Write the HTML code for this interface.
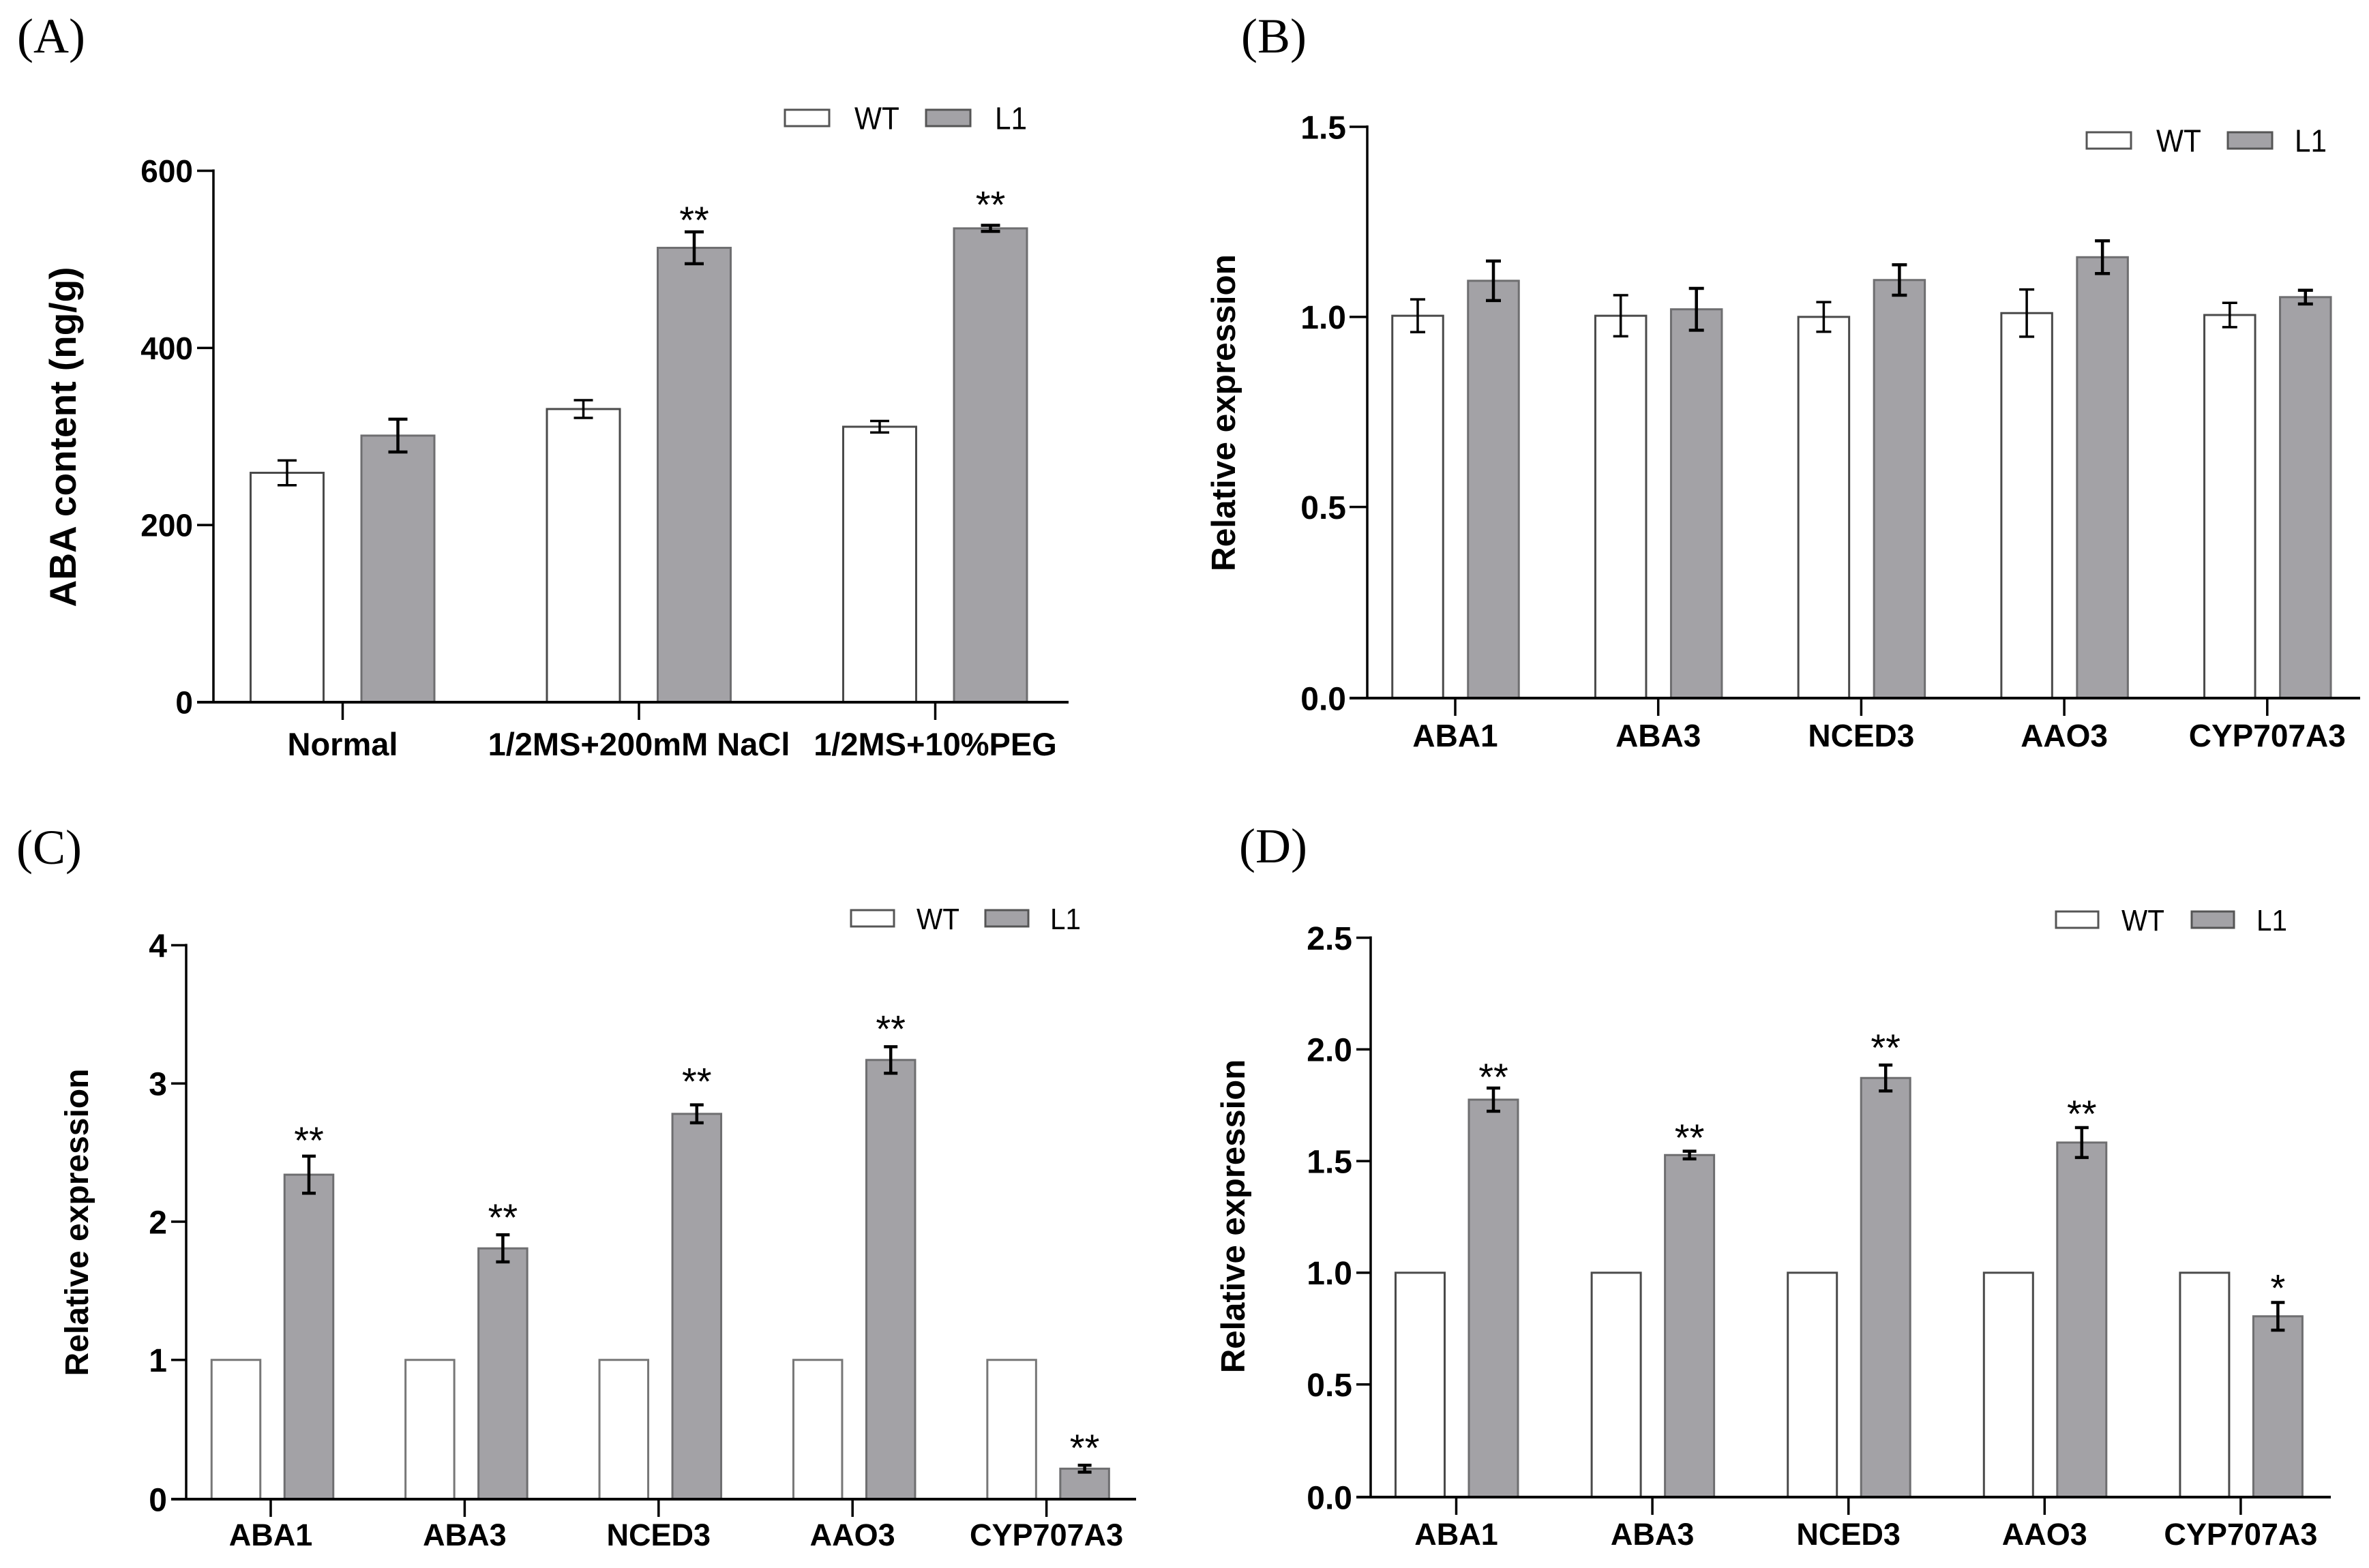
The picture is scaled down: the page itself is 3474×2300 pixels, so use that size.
<!DOCTYPE html>
<html lang="en">
<head>
<meta charset="utf-8">
<title>ABA content and relative expression</title>
<style>
html,body{margin:0;padding:0;background:#fff;}
svg{display:block;}
text{font-family:"Liberation Sans",Arial,sans-serif;fill:#000;}
.bold{font-weight:700;}
.letter{font-family:"Liberation Serif","Times New Roman",serif;font-size:72px;}
</style>
</head>
<body>
<svg id="figure" xmlns="http://www.w3.org/2000/svg" width="3474" height="2300" viewBox="0 0 3474 2300">
<rect width="3474" height="2300" fill="#fff"/>
<text class="letter" x="25" y="77">(A)</text>
<text class="letter" x="1820" y="77">(B)</text>
<text class="letter" x="24" y="1267">(C)</text>
<text class="letter" x="1817" y="1265">(D)</text>
</svg>
<script>
// ---- Panel A data ----
const categoriesA = ['Normal', '1/2MS+200mM NaCl', '1/2MS+10%PEG'];
const wtA = [259, 331, 311];
const l1A = [301, 513, 535];
const wtErrA = [14, 10, 6.5];
const l1ErrA = [18.5, 18, 3.4];
const sigA = ['', '**', '**'];
const sigGapA = [0, 17.7, 27.7];
const ticksA = [0, 200, 400, 600];

// ---- Panel B data ----
const categoriesB = ['ABA1', 'ABA3', 'NCED3', 'AAO3', 'CYP707A3'];
const wtB = [1.003, 1.003, 1.0, 1.01, 1.005];
const l1B = [1.095, 1.02, 1.097, 1.157, 1.052];
const wtErrB = [0.043, 0.054, 0.039, 0.062, 0.032];
const l1ErrB = [0.052, 0.055, 0.04, 0.043, 0.018];
const sigB = ['', '', '', '', ''];
const sigGapB = [0, 0, 0, 0, 0];
const ticksB = [0, 0.5, 1.0, 1.5];

// ---- Panel C data ----
const categoriesC = ['ABA1', 'ABA3', 'NCED3', 'AAO3', 'CYP707A3'];
const wtC = [1, 1, 1, 1, 1];
const l1C = [2.34, 1.807, 2.78, 3.17, 0.213];
const wtErrC = [0, 0, 0, 0, 0];
const l1ErrC = [0.134, 0.098, 0.065, 0.096, 0.025];
const sigC = ['**', '**', '**', '**', '**'];
const sigGapC = [0.143, 0.153, 0.197, 0.158, 0.153];
const ticksC = [0, 1, 2, 3, 4];

// ---- Panel D data ----
const categoriesD = ['ABA1', 'ABA3', 'NCED3', 'AAO3', 'CYP707A3'];
const wtD = [1, 1, 1, 1, 1];
const l1D = [1.775, 1.527, 1.872, 1.583, 0.805];
const wtErrD = [0, 0, 0, 0, 0];
const l1ErrD = [0.052, 0.017, 0.058, 0.067, 0.062];
const sigD = ['**', '**', '**', '**', '*'];
const sigGapD = [0.067, 0.079, 0.095, 0.079, 0.082];
const ticksD = [0, 0.5, 1.0, 1.5, 2.0, 2.5];

const yTitleA = 'ABA content (ng/g)';
const yTitleExpr = 'Relative expression';
const legendLabels = ['WT', 'L1'];

const NS = 'http://www.w3.org/2000/svg';
const figure = document.getElementById('figure');

function make(tag, attrs, parent, content) {
  const el = document.createElementNS(NS, tag);
  for (const key in attrs) el.setAttribute(key, attrs[key]);
  if (content !== undefined) el.textContent = content;
  parent.appendChild(el);
  return el;
}

function drawPanel(p) {
  const group = make('g', {}, figure);
  
  

  const domainMax = p.ticks[p.ticks.length - 1];
  const yScale = function (v) { return p.yZero - (v / domainMax) * (p.yZero - p.yTop); };
  const xBand = function (i) { return p.firstCat + p.catStep * i; };

  // bars
  p.categories.forEach(function (cat, i) {
    const slug = cat.toLowerCase().replace(/[^a-z0-9]+/g, '-');
    const seriesList = [
      { key: 'wt', vals: p.wt, errs: p.wtErr, off: p.wtOffset, fill: '#ffffff', stroke: p.wtStroke, sw: 3 },
      { key: 'l1', vals: p.l1, errs: p.l1Err, off: p.l1Offset, fill: '#a3a2a6', stroke: '#6e6e70', sw: 3 }
    ];
    seriesList.forEach(function (s) {
      const cx = xBand(i) + s.off;
      const top = yScale(s.vals[i]);
      const bar = make('rect', {
        x: cx - p.barW / 2, y: top, width: p.barW, height: p.y0 - top,
        fill: s.fill, stroke: s.stroke, 'stroke-width': s.sw
      }, group);
      
      

      if (s.errs[i] > 0) {
        const errTop = yScale(s.vals[i] + s.errs[i]);
        const errBot = yScale(s.vals[i] - s.errs[i]);
        const sw = s.key === 'wt' ? 3.5 : 4.5;
        const err = make('path', {
          d: 'M' + (cx - p.cap) + ' ' + errTop + 'H' + (cx + p.cap) +
             'M' + cx + ' ' + errTop + 'V' + errBot +
             'M' + (cx - p.cap) + ' ' + errBot + 'H' + (cx + p.cap),
          fill: 'none', stroke: '#000', 'stroke-width': sw
        }, group);
        
        
      }
    });

    if (p.sig[i]) {
      const starX = xBand(i) + p.l1Offset;
      const starCenter = yScale(p.l1[i] + p.l1Err[i] + p.sigGap[i]);
      const star = make('text', {
        x: starX, y: starCenter + 25, 'text-anchor': 'middle', 'font-size': 56
      }, group, p.sig[i]);
      
      
    }

    const tick = make('line', {
      x1: xBand(i), x2: xBand(i), y1: p.y0, y2: p.y0 + 26,
      stroke: '#000', 'stroke-width': 3.5
    }, group);
    
    

    const label = make('text', {
      class: 'bold', x: xBand(i), y: p.catBase, 'text-anchor': 'middle', 'font-size': p.catFont
    }, group, cat);
    
    
  });

  // axes
  const yAxis = make('line', {
    x1: p.axisX, x2: p.axisX, y1: p.yTop - 2, y2: p.y0,
    stroke: '#000', 'stroke-width': 3.5
  }, group);
  
  

  const xAxis = make('line', {
    x1: p.tickLeft, x2: p.axisRight, y1: p.y0, y2: p.y0,
    stroke: '#000', 'stroke-width': 4
  }, group);
  
  

  p.ticks.forEach(function (t) {
    const y = t === 0 ? p.y0 : yScale(t);
    const tick = make('line', {
      x1: p.tickLeft, x2: p.axisX, y1: y, y2: y, stroke: '#000', 'stroke-width': 3.5
    }, group);
    
    

    const label = make('text', {
      class: 'bold', x: p.tickLeft - p.tickGap, y: y + p.tickFont * 0.36,
      'text-anchor': 'end', 'font-size': p.tickFont
    }, group, t.toFixed(p.decimals));
    
    
  });

  const title = make('text', {
    class: 'bold', x: 0, y: 0, 'text-anchor': 'middle', 'font-size': p.titleFont,
    transform: 'translate(' + p.titleX + ' ' + p.titleY + ') rotate(-90)'
  }, group, p.title);
  
  

  // legend
  const legend = make('g', {}, group);
  
  
  legendLabels.forEach(function (name, i) {
    const entry = make('g', {}, legend);
    
    
    const swatch = make('rect', {
      x: p.legendSwatch[i], y: p.legendY - 12, width: p.legendW, height: 24,
      fill: i === 0 ? '#ffffff' : '#a3a2a6', stroke: '#555', 'stroke-width': 3
    }, entry);
    
    
    const text = make('text', {
      x: p.legendText[i], y: p.legendY + p.legendFont * 0.36, 'font-size': p.legendFont,
      textLength: (i === 0 ? 1.555 : 1.112) * p.legendFont * 0.92, lengthAdjust: 'spacingAndGlyphs'
    }, entry, name);
    
    
  });
}

drawPanel({
  id: 'a', categories: categoriesA, wt: wtA, l1: l1A, wtErr: wtErrA, l1Err: l1ErrA, sig: sigA, sigGap: sigGapA, ticks: ticksA,
  decimals: 0, title: yTitleA, wtStroke: '#4a4a4a',
  axisX: 313, tickLeft: 289, axisRight: 1567, y0: 1030, yZero: 1030, yTop: 250.5,
  firstCat: 502.5, catStep: 434.5, wtOffset: -81.5, l1Offset: 81, barW: 107, cap: 14,
  catBase: 1108, catFont: 47, tickFont: 46, tickGap: 6, titleX: 111, titleY: 641, titleFont: 55,
  legendSwatch: [1151, 1358], legendText: [1253, 1459], legendW: 65, legendY: 173, legendFont: 46
});
drawPanel({
  id: 'b', categories: categoriesB, wt: wtB, l1: l1B, wtErr: wtErrB, l1Err: l1ErrB, sig: sigB, sigGap: sigGapB, ticks: ticksB,
  decimals: 1, title: yTitleExpr, wtStroke: '#4a4a4a',
  axisX: 2005, tickLeft: 1979, axisRight: 3461, y0: 1024, yZero: 1022.5, yTop: 186,
  firstCat: 2134, catStep: 297.7, wtOffset: -55, l1Offset: 56, barW: 74.5, cap: 11,
  catBase: 1095, catFont: 46, tickFont: 48, tickGap: 5, titleX: 1811, titleY: 605.5, titleFont: 49.5,
  legendSwatch: [3060, 3267], legendText: [3162, 3365], legendW: 65, legendY: 206, legendFont: 46
});
drawPanel({
  id: 'c', categories: categoriesC, wt: wtC, l1: l1C, wtErr: wtErrC, l1Err: l1ErrC, sig: sigC, sigGap: sigGapC, ticks: ticksC,
  decimals: 0, title: yTitleExpr, wtStroke: '#777777',
  axisX: 273, tickLeft: 251, axisRight: 1666, y0: 2199, yZero: 2197.5, yTop: 1386.5,
  firstCat: 397, catStep: 284.4, wtOffset: -51, l1Offset: 56, barW: 71.5, cap: 10,
  catBase: 2267, catFont: 45, tickFont: 48, tickGap: 6, titleX: 129, titleY: 1793, titleFont: 48,
  legendSwatch: [1248, 1445], legendText: [1344, 1540], legendW: 63, legendY: 1347, legendFont: 44
});
drawPanel({
  id: 'd', categories: categoriesD, wt: wtD, l1: l1D, wtErr: wtErrD, l1Err: l1ErrD, sig: sigD, sigGap: sigGapD, ticks: ticksD,
  decimals: 1, title: yTitleExpr, wtStroke: '#4a4a4a',
  axisX: 2010, tickLeft: 1989, axisRight: 3418, y0: 2196, yZero: 2194.5, yTop: 1375.5,
  firstCat: 2135.5, catStep: 287.6, wtOffset: -53, l1Offset: 54.5, barW: 72, cap: 10,
  catBase: 2266, catFont: 45, tickFont: 48, tickGap: 6, titleX: 1825, titleY: 1784, titleFont: 49,
  legendSwatch: [3015, 3214], legendText: [3111, 3309], legendW: 62, legendY: 1349, legendFont: 44
});
</script>
</body>
</html>
